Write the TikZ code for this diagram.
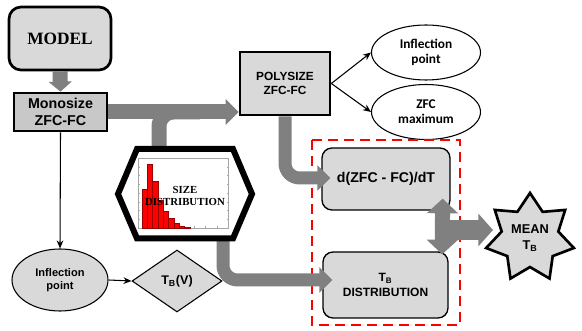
\documentclass[tikz,border=0pt]{standalone}
\usepackage{fontspec}
\setmainfont{Liberation Serif}
\setsansfont{Liberation Sans}
\newfontfamily\calibri{Carlito}
\usetikzlibrary{arrows.meta,calc,shapes.geometric}

\definecolor{boxgray}{RGB}{217,217,217}
\definecolor{monogray}{RGB}{200,200,200}
\definecolor{bandgray}{RGB}{128,128,128}

\tikzset{
	block/.style={draw, line width=2pt, fill=boxgray, align=center, inner sep=0pt},
	thinarrow/.style={-{Stealth[length=6pt,width=5pt]}, line width=0.8pt},
	band/.style={draw=bandgray, line width=11pt, rounded corners=11pt},
	bandtip/.style={-{Triangle[length=9.75pt,width=18.75pt]}},
}

\begin{document}
\begin{tikzpicture}[x=0.75pt, y=-0.75pt]
			%%%%% START %%%%%
			\useasboundingbox (0,0) rectangle (582,331);
			
			\node[block, rounded corners=9pt, minimum width=76.5pt, minimum height=47.25pt, font=\rmfamily\bfseries\fontsize{13}{15}\selectfont] (model) at (60,38.5) {MODEL};
			\node[block, fill=monogray, minimum width=69.75pt, minimum height=28.5pt, font=\sffamily\bfseries\fontsize{10.7}{12.8}\selectfont] (mono) at (60.5,112) {Monosize\\ZFC-FC};
			\node[block, minimum width=67.5pt, minimum height=47.25pt, font=\sffamily\bfseries\fontsize{8.9}{10}\selectfont] (poly) at (285,83.5) {POLYSIZE\\ZFC-FC};
			
			\node[ellipse, draw, line width=0.8pt, minimum width=81.75pt, minimum height=41.25pt, inner sep=0pt, align=center, font=\calibri\bfseries\fontsize{10}{11.25}\selectfont] (inflpoly) at (426,52.5) {Inflection\\point};
			\node[ellipse, draw, line width=0.8pt, minimum width=81.75pt, minimum height=41.25pt, inner sep=0pt, align=center, font=\calibri\bfseries\fontsize{10}{11.25}\selectfont] (zfcmax) at (426,112) {ZFC\\maximum};
			
			\draw[thinarrow] (poly.east) -- (inflpoly.west);
			\draw[thinarrow] (poly.east) -- (zfcmax.west);
			
			% dashed group
			\draw[red, line width=2.2pt, dash pattern=on 7.5pt off 4.5pt] (312,140) rectangle (460,325);
			\node[block, line width=1pt, rounded corners=7.5pt, minimum width=96pt, minimum height=46.5pt, font=\sffamily\bfseries\fontsize{10.6}{12.5}\selectfont] (dzfc) at (386,179) {d(ZFC - FC)/dT};
			\node[block, line width=1pt, rounded corners=7.5pt, minimum width=93.75pt, minimum height=49.5pt, font=\sffamily\bfseries\fontsize{9}{11}\selectfont] (tbdist) at (385.5,285) {T\textsubscript{B}\\DISTRIBUTION};
			
			\node[ellipse, draw, fill=boxgray, line width=0.8pt, minimum width=72pt, minimum height=46.5pt, inner sep=0pt, align=center, font=\sffamily\bfseries\fontsize{8.3}{9.75}\selectfont] (inflmono) at (60,280) {Inflection\\point};
			\node[diamond, draw, fill=boxgray, line width=0.8pt, minimum width=67.5pt, minimum height=46.5pt, inner sep=0pt, font=\sffamily\bfseries\fontsize{9.4}{11}\selectfont] (tbv) at (177,281) {T\textsubscript{B}(V)};
			
			\draw[thinarrow] (mono.south) -- (inflmono.north);
			\draw[thinarrow] (inflmono.east) -- (tbv.west);
			
			\node[star, star points=7, star point ratio=1.55, minimum size=67.5pt, inner sep=0pt, draw, line width=2pt, fill=boxgray, align=center, font=\sffamily\bfseries\fontsize{9.6}{11.5}\selectfont] (mean) at (530,238) {MEAN\\T\textsubscript{B}};
			
			% fat gray connectors
			\coordinate (hextop) at (159,150);
			\coordinate (hexbot) at (223,237);
			\coordinate (split) at (442,230);
			\draw[band, line width=11.25pt, -{Triangle[length=7.5pt,width=17pt]}] (model.south) -- (mono.north);
			\draw[band, line width=11.25pt, bandtip] (mono.east) -- (mono.east -| poly.west);
			\draw[band, line width=11.25pt] (hextop) |- (200,112);
			\draw[band, line width=9.75pt, bandtip] (poly.south) |- ($(dzfc.west)+(9,-1)$);
			\draw[band, line width=9.75pt, bandtip] (hexbot) |- ($(tbdist.west)+(10,-5)$);
			\draw[band, line width=11.25pt, {Triangle[length=11pt,width=23pt]}-{Triangle[length=11pt,width=23pt]}] ($(dzfc.south east)+(-8,-12)$) -- ($(tbdist.north east)+(-6.5,3)$);
			\draw[band, line width=15pt, -{Triangle[length=11pt,width=24pt]}] (split) -- ($(mean.center)+(-37,-8)$);
			
			% size distribution
			\draw[line width=4.5pt, fill=white, line join=miter] (118,194) -- (137,149) -- (233,149) -- (252,194) -- (233,238.5) -- (137,238.5) -- cycle;
			\draw[gray!70, line width=0.3pt] (138,158) rectangle (228,228);
			\foreach \k in {1,...,7} {
				\draw[gray!70, line width=0.2pt] ({138+\k*11.25},228) -- ++(0,-1.5);
				\draw[gray!70, line width=0.2pt] ({138+\k*11.25},158) -- ++(0,1.5);
				\draw[gray!70, line width=0.2pt] (138,{158+\k*8.75}) -- ++(1.5,0);
				\draw[gray!70, line width=0.2pt] (228,{158+\k*8.75}) -- ++(-1.5,0);
			}
			\foreach \top [count=\i from 0] in {189,164,181,200,211,218,223,226,227} {
				\draw[fill=red, draw=red!60!black, line width=0.2pt] ({142+5.3*\i},228) rectangle ({147.3+5.3*\i},\top);
			}
			\node[align=center, inner sep=0pt, font=\rmfamily\bfseries\fontsize{8.1}{9}\selectfont] (sizedist) at (185,196) {SIZE\\DISTRIBUTION};
			
			%%%%% END %%%%%
\end{tikzpicture}
\end{document}
